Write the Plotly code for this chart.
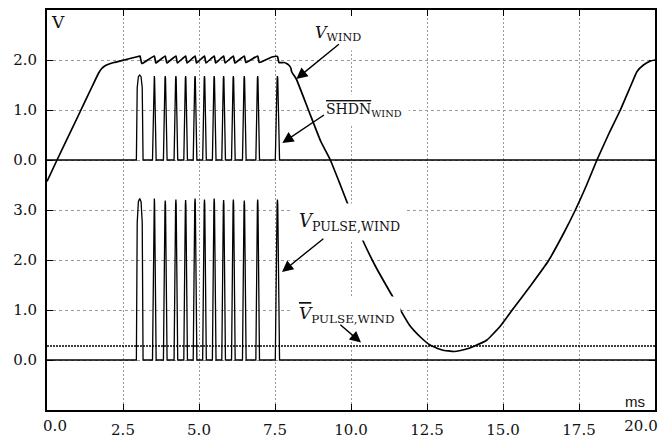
import plotly.graph_objects as go

# ---------------- data ----------------
# pulse centre times, ms
PULSE_T = [3.05, 3.53, 3.89, 4.24, 4.56, 4.87, 5.18, 5.50, 5.81, 6.13, 6.49, 6.93, 7.58]
# SHDN_WIND pulse heights (upper scale, V)
SHDN_PEAK = [1.70, 1.68, 1.68, 1.68, 1.68, 1.68, 1.68, 1.68, 1.68, 1.68, 1.68, 1.68, 1.68]
# V_PULSE,WIND pulse heights (lower scale, V)
VPULSE_PEAK = [3.23, 3.23, 3.19, 3.21, 3.20, 3.23, 3.21, 3.23, 3.20, 3.21, 3.19, 3.21, 3.21]
# pulse half widths, ms
PULSE_HW = [0.11, 0.06, 0.06, 0.06, 0.06, 0.06, 0.06, 0.06, 0.06, 0.06, 0.06, 0.06, 0.07]
# normalised pulse profiles (offset in half widths, fraction of peak)
WIDE_OFF = [-1.0, -0.75, -0.4, 0.0, 0.4, 0.75, 1.0]
WIDE_FRAC = [0.0, 0.85, 0.98, 1.0, 0.98, 0.85, 0.0]
NARROW_OFF = [-1.0, -0.15, 0.0, 0.15, 1.0]
NARROW_FRAC = [0.0, 0.97, 1.0, 0.97, 0.0]

# V_WIND (upper scale, V)
WIND_T = [0.00, 0.33, 1.00, 1.50, 1.70, 1.80, 1.90, 2.00, 2.20, 2.60, 3.00,
          3.06, 3.12, 3.53, 3.58, 3.89, 3.94, 4.24, 4.29, 4.56, 4.61,
          4.87, 4.92, 5.18, 5.23, 5.50, 5.55, 5.81, 5.86, 6.13, 6.18,
          6.49, 6.54, 6.93, 6.98, 7.40, 7.58, 7.63,
          7.80, 7.88, 7.95, 8.02, 8.05, 8.20, 8.60, 9.00, 9.32, 9.65,
          9.95, 10.36, 10.80, 11.33, 11.92, 12.30, 12.60, 13.00, 13.40,
          13.80, 14.03, 14.47, 14.90, 15.29, 15.90, 16.50, 17.00, 17.38,
          17.75, 18.09, 18.50, 18.86, 19.20, 19.41, 19.62, 19.85, 20.00]
WIND_V = [-0.43, 0.00, 0.85, 1.49, 1.74, 1.83, 1.88, 1.91, 1.95, 2.01, 2.07,
          2.08, 1.93, 2.08, 1.94, 2.08, 1.94, 2.08, 1.94, 2.08, 1.94,
          2.08, 1.94, 2.08, 1.94, 2.08, 1.94, 2.08, 1.94, 2.08, 1.94,
          2.08, 1.95, 2.08, 1.95, 2.06, 2.07, 1.95,
          1.95, 1.93, 1.90, 1.84, 1.76, 1.62, 1.00, 0.38, 0.00, -0.50,
          -0.97, -1.57, -2.12, -2.69, -3.30, -3.55, -3.70, -3.80, -3.83,
          -3.78, -3.73, -3.60, -3.33, -3.01, -2.52, -2.01, -1.46, -1.00,
          -0.50, 0.00, 0.55, 1.00, 1.48, 1.77, 1.90, 1.98, 2.00]

VPULSE_MEAN = 0.28  # lower scale, V
T_START, T_END = 0.0, 20.0

X_TICKS = [0, 2.5, 5, 7.5, 10, 12.5, 15, 17.5, 20]
X_TICKTEXT = ["0.0", "2.5", "5.0", "7.5", "10.0", "12.5", "15.0", "17.5", "20.0"]
UP_TICKS = [0, 1, 2]
UP_TICKTEXT = ["0.0", "1.0", "2.0"]
LO_TICKS = [0, 1, 2, 3]
LO_TICKTEXT = ["0.0", "1.0", "2.0", "3.0"]


def pulse_train(times, peaks, hws):
    xs, ys = [T_START], [0.0]
    for i, (t, p, hw) in enumerate(zip(times, peaks, hws)):
        off, frac = (WIDE_OFF, WIDE_FRAC) if i == 0 else (NARROW_OFF, NARROW_FRAC)
        for o, f in zip(off, frac):
            xs.append(t + o * hw)
            ys.append(p * f)
    xs.append(T_END)
    ys.append(0.0)
    return xs, ys


shdn_x, shdn_y = pulse_train(PULSE_T, SHDN_PEAK, PULSE_HW)
vp_x, vp_y = pulse_train(PULSE_T, VPULSE_PEAK, PULSE_HW)

SERIF = "DejaVu Serif"
TXT = "#111111"
fig = go.Figure()

fig.add_trace(go.Scatter(x=vp_x, y=vp_y, mode="lines", yaxis="y",
                         line=dict(color="black", width=1.3), showlegend=False))
fig.add_trace(go.Scatter(x=[T_START, T_END], y=[VPULSE_MEAN, VPULSE_MEAN], mode="lines",
                         yaxis="y", line=dict(color="black", width=1.6, dash="2px,1px"),
                         showlegend=False))
fig.add_trace(go.Scatter(x=shdn_x, y=shdn_y, mode="lines", yaxis="y2",
                         line=dict(color="black", width=1.3), showlegend=False))
fig.add_trace(go.Scatter(x=WIND_T, y=WIND_V, mode="lines", yaxis="y2",
                         line=dict(color="black", width=1.7, shape="spline", smoothing=0.4),
                         showlegend=False))
# empty traces so the helper x axes (end tick labels) are rendered
fig.add_trace(go.Scatter(x=[], y=[], xaxis="x2", yaxis="y", showlegend=False))
fig.add_trace(go.Scatter(x=[], y=[], xaxis="x3", yaxis="y", showlegend=False))

grid_col = "#9a9a9a"
tickfont = dict(family=SERIF, size=15, color=TXT)
common_axis = dict(ticks="inside", ticklen=6, tickwidth=1.3, tickcolor="black",
                   showline=True, linewidth=2, linecolor="black", mirror="ticks",
                   showgrid=True, gridcolor=grid_col, gridwidth=1,
                   zeroline=False, automargin=False, tickfont=tickfont)
helper_x = dict(range=[T_START, T_END], overlaying="x", anchor="y", side="bottom",
                showgrid=False, showline=False, zeroline=False, ticks="",
                automargin=False, ticklabelstandoff=5, ticklabeloverflow="allow",
                tickfont=tickfont)
fig.update_layout(
    width=667, height=439,
    margin=dict(l=47, r=12, t=10, b=29, autoexpand=False),
    paper_bgcolor="white", plot_bgcolor="white",
    font=dict(family=SERIF, size=15, color=TXT),
    xaxis=dict(range=[T_START, T_END], tickvals=X_TICKS, ticktext=[""] + X_TICKTEXT[1:-1] + [""],
               griddash="2px,2px", ticklabelstandoff=5, **common_axis),
    # the two end labels are nudged inward, as in the reference
    xaxis2=dict(tickvals=X_TICKS[:1], ticktext=X_TICKTEXT[:1], ticklabelshift=8, **helper_x),
    xaxis3=dict(tickvals=X_TICKS[-1:], ticktext=X_TICKTEXT[-1:], ticklabelshift=-14, **helper_x),
    yaxis=dict(range=[-1, 7], tickvals=LO_TICKS, ticktext=LO_TICKTEXT,
               griddash="3px,3px", ticklabelstandoff=5, **common_axis),
    yaxis2=dict(range=[-5, 3], tickvals=UP_TICKS, ticktext=UP_TICKTEXT,
                overlaying="y", side="left",
                griddash="3px,3px", ticklabelstandoff=5, **common_axis),
)

ov = '<span style="text-decoration:overline">%s</span>'
labels = [
    dict(text="<i>V</i><sub>WIND</sub>", x=9.58, y=2.54, yref="y2", size=16),
    dict(text=(ov % "SHDN") + "<sub>WIND</sub>", x=10.43, y=1.0, yref="y2", size=14),
    dict(text="<i>V</i><sub>PULSE,WIND</sub>", x=9.94, y=2.76, yref="y", size=18),
    dict(text="<i>" + (ov % "V") + "</i><sub>PULSE,WIND</sub>", x=9.84, y=0.92, yref="y", size=17),
]
for lb in labels:
    fig.add_annotation(text=lb["text"], x=lb["x"], y=lb["y"], xref="x", yref=lb["yref"],
                       xanchor="center", yanchor="middle",
                       showarrow=False, bgcolor="white", borderpad=6,
                       font=dict(family=SERIF, size=lb["size"], color=TXT))

arrows = [
    dict(tail=(9.65, 2.34), tip=(8.20, 1.62), yref="y2"),
    dict(tail=(9.16, 0.92), tip=(7.74, 0.34), yref="y2"),
    dict(tail=(9.14, 2.45), tip=(7.73, 1.76), yref="y"),
    dict(tail=(9.60, 0.73), tip=(10.33, 0.35), yref="y"),
]
for a in arrows:
    fig.add_annotation(text="", x=a["tip"][0], y=a["tip"][1], ax=a["tail"][0], ay=a["tail"][1],
                       xref="x", yref=a["yref"], axref="x", ayref=a["yref"],
                       showarrow=True, arrowhead=2, arrowsize=1.6, arrowwidth=1.4,
                       arrowcolor="black")

fig.add_annotation(text="V", xref="paper", yref="paper", x=0.018, y=0.97,
                   xanchor="center", yanchor="middle",
                   showarrow=False, font=dict(family=SERIF, size=17, color=TXT))
fig.add_annotation(text="ms", xref="paper", yref="paper", x=0.967, y=0.0225,
                   xanchor="center", yanchor="middle",
                   showarrow=False, font=dict(family="Liberation Sans", size=15, color=TXT))

fig.write_html("out.html")
